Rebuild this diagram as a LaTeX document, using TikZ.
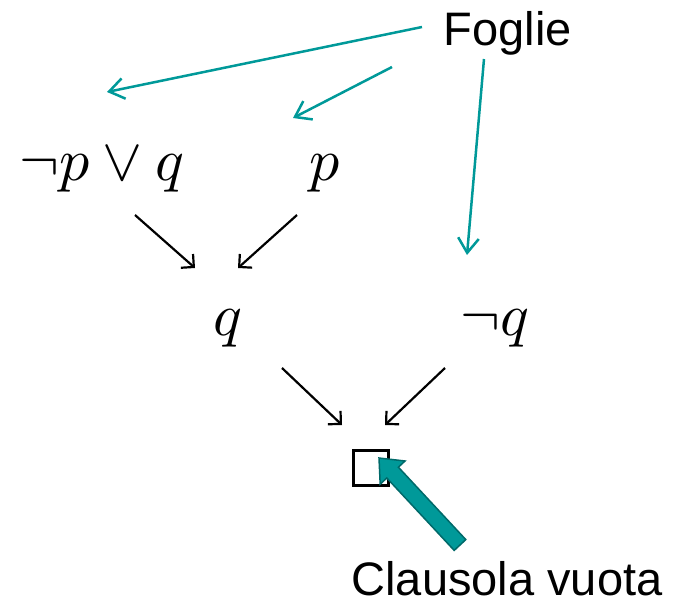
\documentclass[tikz,border=0pt]{standalone}
\usepackage{fontspec}
\setmainfont{Liberation Sans}
\usetikzlibrary{arrows.meta}
\definecolor{leafteal}{RGB}{0,153,153}
\definecolor{tealedge}{RGB}{0,105,105}
\newcommand{\bigmath}[1]{\scalebox{6.0}{$#1$}}

\begin{document}
\begin{tikzpicture}[x=1pt,y=-1pt,
  formula/.style={anchor=base, inner sep=0pt},
  caption/.style={anchor=base, inner sep=0pt, text depth=0pt, font=\fontsize{47}{56}\selectfont},
  derive/.style={line width=2.2pt, -{Straight Barb[angle=90:13pt]}},
  pointer/.style={draw=leafteal, line width=2.5pt, -{Straight Barb[angle=70:18pt]}},
  emptybox/.style={draw, line width=2.5pt, minimum size=35pt, inner sep=0pt},
]
\useasboundingbox (0,0) rectangle (673,600);

% clauses of the refutation tree
\node[formula] (pq) at (102,180) {\bigmath{\neg p\vee q}};
\node[formula] (p)  at (325,180) {\bigmath{p}};
\node[formula] (q)  at (228,335) {\bigmath{q}};
\node[formula] (nq) at (495,335) {\bigmath{\neg q}};
\node[emptybox] (empty) at (371,468) {};

% labels
\node[caption] (leaves) at (508,45) {Foglie};
\node[caption] (emptylbl) at (507,595) {Clausola vuota};

% resolution steps
\coordinate (s1) at (135,215); \coordinate (e1) at (195,268);
\coordinate (s2) at (297,215); \coordinate (e2) at (238,268);
\coordinate (s3) at (282,368); \coordinate (e3) at (342,425);
\coordinate (s4) at (445,368); \coordinate (e4) at (385,425);
\draw[derive] (s1) -- (e1);
\draw[derive] (s2) -- (e2);
\draw[derive] (s3) -- (e3);
\draw[derive] (s4) -- (e4);

% pointers from the "Foglie" label to the leaves
\coordinate (f1) at (422,27);  \coordinate (t1) at (107,92);
\coordinate (f2) at (392,67);  \coordinate (t2) at (293,118);
\coordinate (f3) at (484,59);  \coordinate (t3) at (467,255);
\draw[pointer] (f1) -- (t1);
\draw[pointer] (f2) -- (t2);
\draw[pointer] (f3) -- (t3);

% block arrow pointing at the empty clause
\filldraw[fill=leafteal, draw=tealedge, line width=1.5pt, line join=miter]
  (465.8,539.6) -- (398.4,467.2) -- (405.0,461.0) -- (379,458)
  -- (380.2,484.2) -- (386.8,478.0) -- (454.2,550.4) -- cycle;
\end{tikzpicture}
\end{document}
